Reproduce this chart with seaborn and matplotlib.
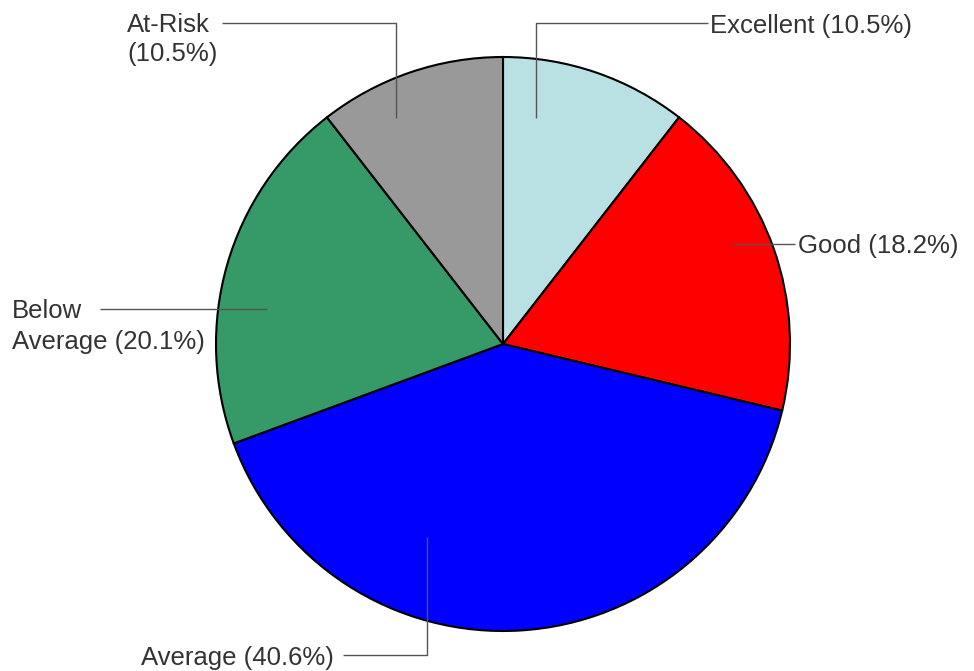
import matplotlib
matplotlib.use("Agg")
import matplotlib.pyplot as plt
import seaborn as sns

# Share of students per performance band
categories = ["Excellent", "Good", "Average", "Below Average", "At-Risk"]
shares = [10.5, 18.2, 40.6, 20.1, 10.5]
label_texts = ["Excellent (10.5%)", "Good (18.2%)", "Average (40.6%)",
               "Below\nAverage (20.1%)", "At-Risk\n(10.5%)"]
colors = ["#B9E0E3", "#FF0000", "#0000FF", "#359A67", "#999999"]

sns.set_theme(style="white")
plt.rcParams["font.family"] = ["Liberation Sans", "DejaVu Sans"]

W, H = 974, 671
fig = plt.figure(figsize=(W / 100, H / 100), dpi=100)
ax = fig.add_axes([0, 0, 1, 1])

cx, cy, r = 503, H - 344, 287
ax.pie(shares, colors=colors, startangle=90, counterclock=False,
       center=(cx, cy), radius=r, frame=True,
       wedgeprops=dict(edgecolor="black", linewidth=1.5))
ax.set_xlim(0, W)
ax.set_ylim(0, H)
ax.set_aspect("equal")
ax.axis("off")

# Leader-line layout: anchor inside the wedge, elbow, line end, text anchor,
# and the gap between text lines for two-line labels (pixels)
layout = {
    "Excellent":     dict(pts=[(536, 118), (536, 23), (708, 23)], text=(710, 23), ha="left", gap=0),
    "Good":          dict(pts=[(733, 244), (795, 244)], text=(798, 244), ha="left", gap=0),
    "Average":       dict(pts=[(427, 537), (427, 655), (343, 655)], text=(334, 655), ha="right", gap=0),
    "Below Average": dict(pts=[(267, 309), (100, 309)], text=(12, 309), ha="left", gap=31),
    "At-Risk":       dict(pts=[(396, 118), (396, 23), (222, 23)], text=(127, 23), ha="left", gap=28),
}

for cat, txt in zip(categories, label_texts):
    lay = layout[cat]
    xs = [p[0] for p in lay["pts"]]
    ys = [H - p[1] for p in lay["pts"]]
    ax.plot(xs, ys, color="#555555", linewidth=1.0, solid_capstyle="butt")
    tx, ty = lay["text"]
    for i, line in enumerate(txt.split("\n")):
        ax.text(tx, H - ty - i * lay["gap"], line, ha=lay["ha"], va="center_baseline",
                fontsize=18.5, color="#333333")

fig.savefig("out.png", dpi=100)
